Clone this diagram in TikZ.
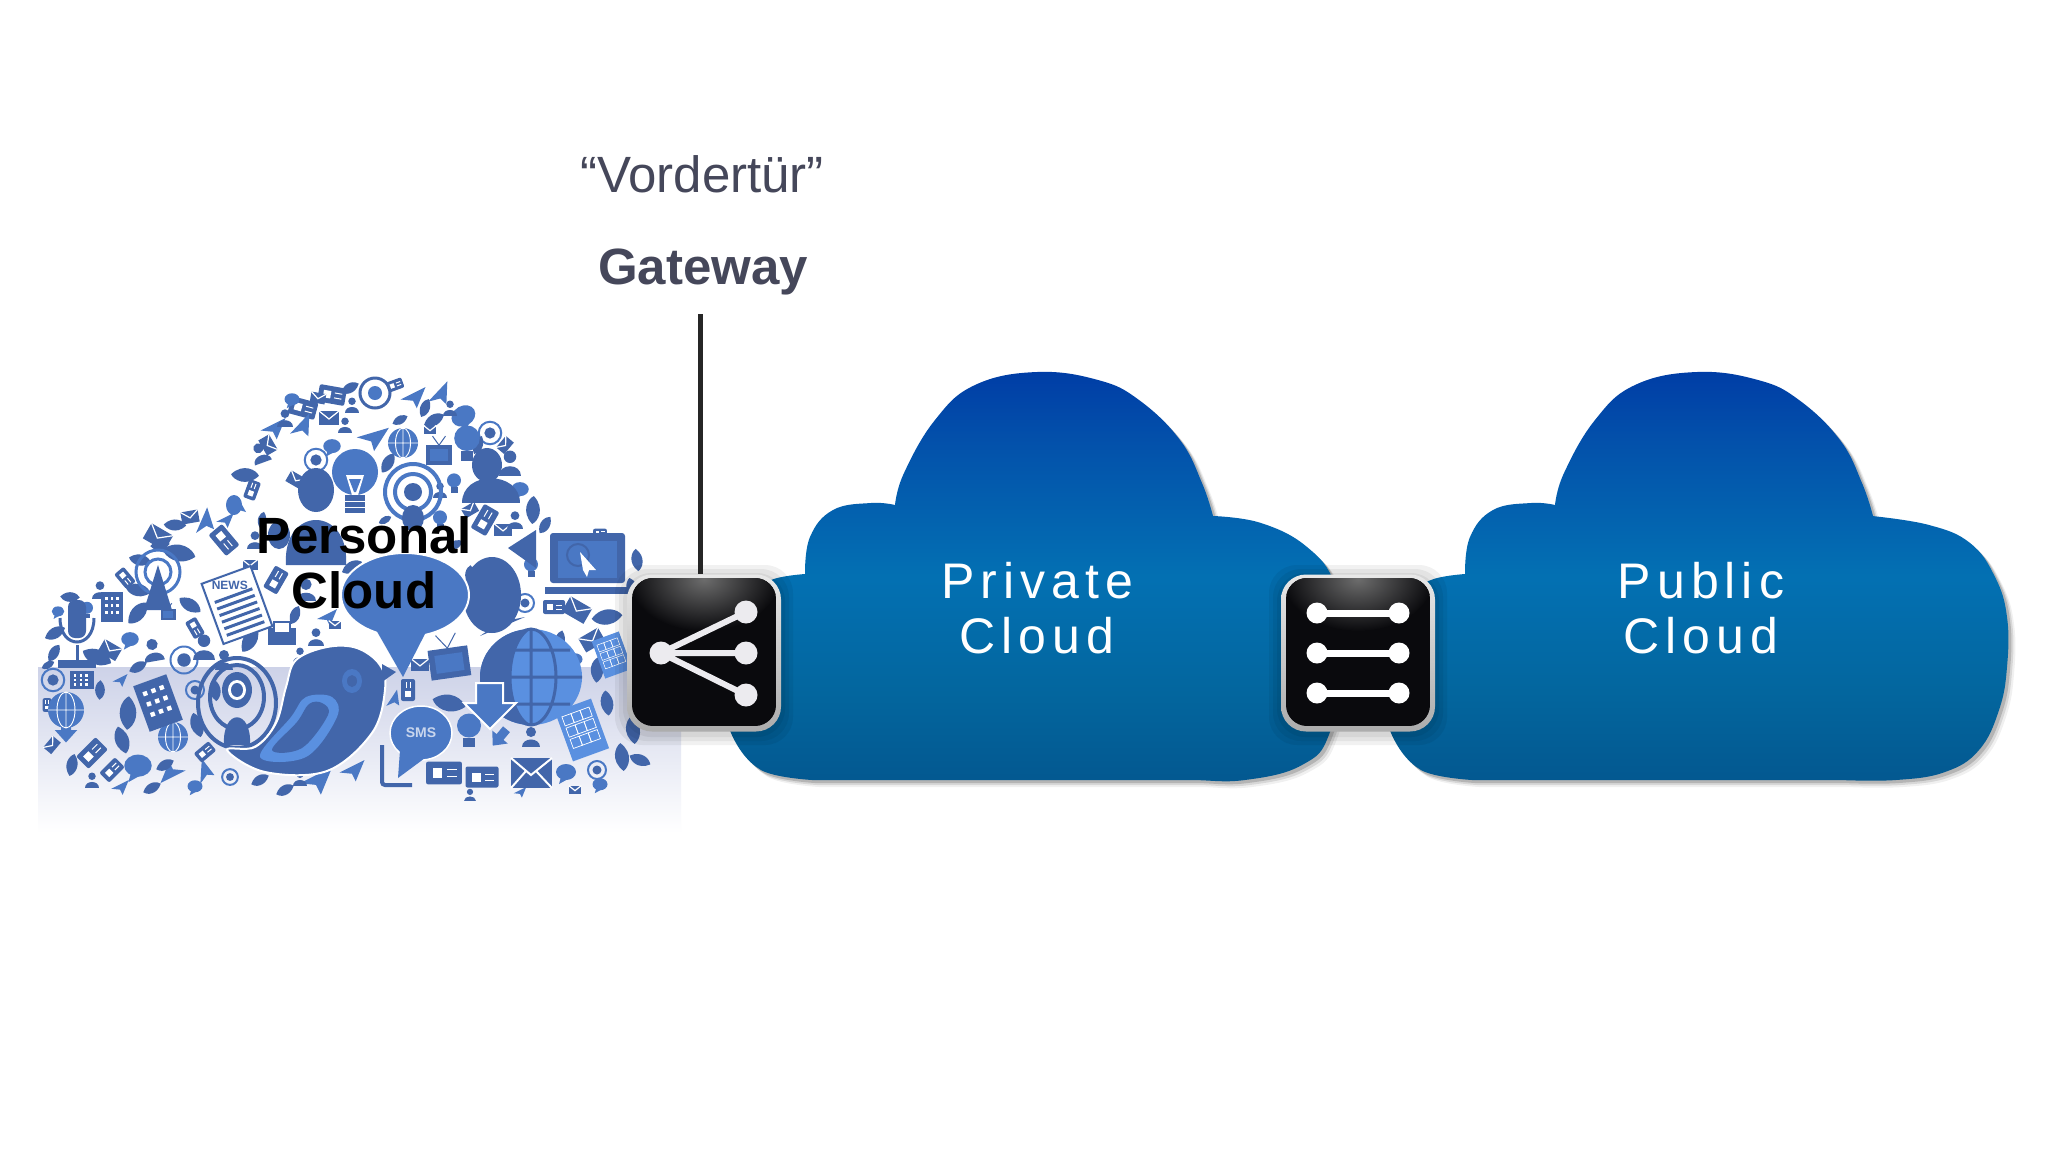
\documentclass[tikz,border=0pt]{standalone}
\usepackage{fontspec}
\setmainfont{Liberation Sans}
\newfontfamily\widefont{Liberation Sans}[LetterSpace=12]
\usetikzlibrary{calc}

\definecolor{mdk}{HTML}{4266AA}
\definecolor{mmd}{HTML}{4A78C4}
\definecolor{mlt}{HTML}{5A90E0}
\definecolor{inktext}{HTML}{45475A}
\definecolor{swblack}{HTML}{0A0A0D}
\definecolor{wirecol}{HTML}{ECEBEF}
\definecolor{reflect}{HTML}{CDD2E8}

\pgfdeclareverticalshading{cloudsh}{100bp}{
  rgb(0bp)=(0.012,0.345,0.565);
  rgb(25bp)=(0.012,0.345,0.565);
  rgb(36bp)=(0.012,0.400,0.620);
  rgb(50bp)=(0.012,0.440,0.700);
  rgb(66bp)=(0.012,0.320,0.670);
  rgb(75bp)=(0.000,0.240,0.650);
  rgb(100bp)=(0.000,0.240,0.650)}

\tikzset{
  lbl/.style={inner sep=0pt, text=inktext, anchor=base},
  cloudlbl/.style={inner sep=0pt, text=white, align=center,
    font=\widefont\fontsize{50}{55}\selectfont},
  wire/.style={line width=6pt, wirecol},
  swbox/.style={shape=rectangle, rounded corners=25pt, minimum width=154pt,
    minimum height=157pt, inner sep=0pt, top color=gray!18, bottom color=gray!65},
}

% cloud outline, private cloud position
\newcommand\cloudleft{plot[smooth, tension=.6] coordinates {(812,780) (761,770) (731,733) (722,680) (745,600) (771,580) (805,574)}
  -- plot[smooth, tension=.7] coordinates {(805,574) (810,537) (833,510) (871,503) (895,505)}
  -- plot[smooth, tension=.7] coordinates {(895,505) (904,473) (935,420) (975,385) (1037,372) (1098,380) (1139,400) (1180,440) (1202,483) (1213,516)}}
\newcommand\privright{-- plot[smooth, tension=.7] coordinates {(1213,516) (1261,523) (1307,547) (1335,585) (1345,650) (1330,732) (1302,765) (1245,780) (1190,780) (1134,780)} -- cycle}
\newcommand\pubright{-- plot[smooth, tension=.7] coordinates {(1212,516) (1269,525) (1310,543) (1335,577) (1347,617) (1347,667) (1339,710) (1319,750) (1285,772) (1236,780) (1180,780)} -- cycle}

\newcommand\softshadow[1]{%
  \fill[black, opacity=.06] [shift={(7,7)}] #1;
  \fill[black, opacity=.10] [shift={(5,5)}] #1;
  \fill[black, opacity=.16] [shift={(3,3)}] #1;}

% switch body: #1 name, #2 x
\newcommand\switchbox[2]{%
  \coordinate (#1c) at (#2,653);
  \foreach \g in {12,8,4}
    \fill[black, opacity=.055, rounded corners=28pt] ([shift={(-77-\g,-76-\g)}]#1c) rectangle ([shift={(77+\g,80+\g)}]#1c);
  \node[swbox] (#1) at (#1c) {};
  \begin{scope}
    \clip[rounded corners=21pt] ([shift={(-72,-75)}]#1c) rectangle ([shift={(72,73)}]#1c);
    \fill[swblack] ([shift={(-72,-75)}]#1c) rectangle ([shift={(72,73)}]#1c);
    \shade[inner color=gray!85!black, outer color=swblack] ([shift={(0,-74)}]#1c) ellipse (75 and 52);
  \end{scope}}

% mosaic icons
\newcommand\icomail{\fill[mdk] (-10,-7) rectangle (10,7); \draw[white, line width=1.2pt] (-10,-7) -- (0,1) -- (10,-7);}
\newcommand\icobub{\fill[mmd] (0,-1) ellipse (10 and 8); \fill[mmd] (-5,4) -- (-7,11) -- (2,6) -- cycle;}
\newcommand\icousr{\fill[mdk] (0,-5) circle (5); \fill[mdk] (-9,10) .. controls (-9,0) and (9,0) .. (9,10) -- cycle;}
\newcommand\icoglb{\fill[mmd] (0,0) circle (10); \draw[white, line width=.9pt] (-10,0) -- (10,0) (0,-10) -- (0,10) (0,0) ellipse (5 and 10);}
\newcommand\icobul{\fill[mmd] (0,-3) circle (8); \fill[mdk] (-4,5) rectangle (4,11);}
\newcommand\icorng{\draw[mmd, line width=2pt] (0,0) circle (9); \fill[mdk] (0,0) circle (4.5);}
\newcommand\icolef{\fill[mdk] (-10,5) .. controls (-6,-8) and (6,-8) .. (10,-5) .. controls (6,8) and (-6,8) .. cycle;}
\newcommand\icotvs{\fill[mdk] (-10,-6) rectangle (10,9); \fill[mmd] (-7,-3) rectangle (7,6); \draw[mdk, line width=1pt] (-5,-13) -- (0,-6) -- (5,-13);}
\newcommand\icocrd{\fill[mdk, rounded corners=2pt] (-11,-7) rectangle (11,7); \fill[white] (-7,-3) rectangle (-1,3); \draw[white, line width=1pt] (2,-2) -- (8,-2) (2,2) -- (8,2);}
\newcommand\icoarw{\fill[mmd] (-4,-9) -- (4,-9) -- (4,0) -- (9,0) -- (0,10) -- (-9,0) -- (-4,0) -- cycle;}
\newcommand\icopad{\fill[mdk] (-8,-11) rectangle (8,11); \foreach \i in {-4,0,4} \foreach \j in {-6,-1,4} \fill[white] (\i-1,\j-1) rectangle (\i+1,\j+1);}
\newcommand\icoflg{\fill[mmd] (-10,2) -- (10,-8) -- (3,9) -- (0,3) -- cycle;}

\begin{document}
\begin{tikzpicture}[x=1pt, y=-1pt]
  \useasboundingbox (0,0) rectangle (2048,1152);
  \fill[white] (0,0) rectangle (2048,1152);

  % reflection band behind the mosaic
  \shade[top color=reflect, bottom color=white] (38,667) rectangle (681,833);

  % small mosaic icons
  \foreach \k/\x/\y/\s/\r in {
    bub/235/505/.8/90, lef/245/475/1/-30, usr/260/453/.8/20, flg/273/428/1/0, crd/303/408/1/-15,
    crd/332/395/1/-10, flg/413/397/1/0, flg/439/395/1/20, bub/464/417/1/30, lef/434/420/.8/0,
    rng/490/433/1/0, usr/510/463/1/0, lef/533/510/1/60, mail/329/418/.8/0, flg/301/427/1/20,
    bub/332/447/.7/0, rng/316/460/1/0, lef/388/463/.8/30, bul/454/483/.7/0, mail/296/480/.7/-30,
    mail/158/537/1/-30, flg/204/523/1/40, crd/224/540/1/-50, lef/179/553/1.2/-40, lef/138/590/.9/-40,
    lef/138/613/1/20, tvs/168/613/.6/0, lef/55/633/.8/0, lef/54/653/.7/30, bul/87/610/.6/0,
    lef/97/657/1.1/-50, usr/153/650/.9/10, rng/184/660/1.2/0, lef/138/667/.7/0, usr/204/647/1/0,
    usr/224/660/.8/0, lef/250/640/1/30, usr/316/637/.7/0, flg/327/617/.8/0, crd/276/580/.9/60,
    usr/306/590/.9/0, lef/352/567/.8/0, crd/485/520/1/60, mail/503/530/.7/0, bul/531/567/.7/0,
    lef/470/575/.7/60, rng/525/603/.8/0, crd/554/607/.8/0, mail/577/610/1/-30, lef/607/617/1.1/-20,
    mail/592/640/.9/30, lef/597/670/.9/60, rng/53/680/1/0, pad/82/680/.9/90, arw/66/730/1/0,
    crd/92/753/1/45, crd/112/770/.8/45, bub/138/767/1.1/0, flg/173/773/1/180, flg/204/773/.9/60,
    rng/230/777/.7/0, lef/260/780/.7/0, flg/316/780/1.3/0, flg/352/770/1/0, crd/444/773/1.3/0,
    crd/482/777/1.2/0, bub/566/773/.8/0, rng/597/770/.8/0, bul/469/730/1.2/0, arw/500/737/.9/-40,
    usr/531/737/.8/0, crd/408/690/.8/90, lef/449/703/1.2/-40, flg/393/700/.7/30, glb/173/737/1.2/0,
    lef/128/713/1.2/60, lef/122/740/1/80, lef/607/703/.9/70, lef/633/730/1/70, lef/622/757/1/70,
    lef/633/590/.9/80, lef/640/640/.8/80, mail/420/665/.7/0, rng/195/690/.8/0,
    lef/100/690/.7/60, lef/565/690/.7/60, lef/215/690/.8/70, usr/300/655/.6/0,
    % filler along the outline and in the gaps
    crd/252/490/.7/70, mail/268/445/.7/-60, usr/285/418/.7/0, bub/292/400/.6/0, mail/318/398/.6/-10,
    lef/350/388/.7/0, usr/352/405/.6/0, crd/395/385/.6/20, lef/425/408/.7/40, usr/450/408/.6/0,
    lef/478/445/.7/40, mail/505/445/.6/50, bub/520/490/.7/0, usr/515/520/.7/0, lef/545/525/.7/30,
    crd/600/533/.5/0, lef/637/560/.8/70, mail/645/610/.6/70, lef/650/680/.8/85, crd/645/700/.6/80,
    lef/640/760/.8/-50, bub/600/785/.6/0, mail/575/790/.5/0, flg/520/792/.5/0, usr/470/795/.5/0,
    lef/140/560/.8/-40, crd/125/578/.7/-50, lef/175/525/.8/-30, mail/190/517/.7/10, flg/225/520/.7/0,
    lef/160/545/.7/-20, usr/100/590/.7/0, lef/70/597/.7/-30, bub/58/612/.5/0, lef/48/665/.5/0,
    crd/47/705/.5/90, mail/52/745/.6/50, lef/72/765/.8/50, usr/92/780/.6/0, flg/120/787/.7/0,
    lef/152/788/.7/0, bub/195/787/.6/0, lef/285/790/.7/0, usr/300/778/.6/0, lef/190/605/.9/-60,
    crd/195/628/.7/-60, bub/130/640/.7/0, mail/110/650/.8/-30, flg/120/680/.6/0, lef/197/725/.9/80,
    crd/205/752/.7/40, lef/165/765/.7/0, mail/335/625/.5/0, lef/295/615/.7/40, usr/255/540/.7/0,
    lef/262/520/.6/50, mail/250/565/.6/0, bul/440/520/.7/0, lef/455/545/.6/0, mail/470/510/.6/30,
    usr/440/490/.6/0, lef/385/520/.5/0, usr/345/425/.6/0, lef/400/420/.6/0, mail/430/430/.5/0,
    lef/560/640/.7/50, bub/575/660/.6/0, mail/640/675/.5/80}
  {
    \begin{scope}[shift={(\x,\y)}, scale=1.25*\s, rotate=\r]
      \csname ico\k\endcsname
    \end{scope}
  }

  % webcam, top of the cloud
  \draw[mdk, line width=3pt] (375,393) circle (15);
  \fill[mmd] (375,393) circle (7);
  % plane, globe, tv, bulb in the top band
  \begin{scope}[shift={(372,437)}, scale=1.5, rotate=-10] \icoflg \end{scope}
  \begin{scope}[shift={(403,443)}, scale=1.5] \icoglb \end{scope}
  \begin{scope}[shift={(439,453)}, scale=1.3] \icotvs \end{scope}
  \begin{scope}[shift={(467,443)}, scale=1.6] \icobul \end{scope}

  % people
  \fill[mdk] (316,490) ellipse (18 and 22);
  \fill[mdk] (286,565) .. controls (282,505) and (350,505) .. (346,565) -- cycle;
  \fill[mdk] (279,535) ellipse (11 and 14);
  \fill[mdk] (487,465) ellipse (15 and 17);
  \fill[mdk] (462,503) .. controls (462,470) and (520,470) .. (520,503) -- cycle;

  % big bulb
  \fill[mmd] (355,472) ellipse (23 and 23);
  \fill[white] (346,475) -- (364,475) -- (358,495) -- (352,495) -- cycle;
  \fill[mmd] (349,479) -- (361,479) -- (356,492) -- (354,492) -- cycle;
  \fill[mdk] (345,495) rectangle (365,513);
  \draw[white, line width=1pt] (345,501) -- (365,501) (345,507) -- (365,507);

  % rings
  \draw[mmd, line width=4pt] (413,492) circle (28);
  \draw[mmd, line width=4pt] (413,492) circle (18);
  \fill[mdk] (413,492) circle (9);
  \fill[mdk] (413,518) ellipse (11 and 13);

  % laptop
  \fill[mdk, rounded corners=3pt] (550,533) rectangle (625,583);
  \fill[mmd] (558,541) rectangle (617,578);
  \draw[mdk, line width=2pt] (578,555) circle (11);
  \fill[white] (580,552) -- (596,570) -- (589,570) -- (587,577) -- (583,570) -- cycle;
  \fill[mdk] (545,587) rectangle (628,594);

  % megaphone
  \fill[mdk] (508,548) -- (536,530) -- (536,568) -- cycle;

  % newspaper
  \begin{scope}[shift={(237,605)}, rotate=20]
    \draw[mdk, fill=white, line width=2pt] (-26,-32) rectangle (26,32);
    \node[inner sep=0pt, text=mdk, font=\bfseries\fontsize{12}{12}\selectfont] (news) at (0,-21) {NEWS};
    \foreach \y in {-10,-3,4,11,18,25} \draw[mdk, line width=3pt] (-20,\y) -- (20,\y);
  \end{scope}

  % printer
  \fill[mdk] (268,628) rectangle (296,645);
  \fill[white] (274,622) rectangle (290,633);
  \draw[mdk, line width=1.5pt] (274,622) rectangle (290,633);

  % mic, tower, phone
  \fill[mdk, rounded corners=7pt] (68,600) rectangle (86,638);
  \draw[mdk, line width=3pt] (60,618) .. controls (60,650) and (94,650) .. (94,618);
  \draw[mdk, line width=3pt] (77,645) -- (77,662);
  \fill[mdk] (58,660) rectangle (96,668);
  \draw[mmd, line width=3pt] (158,572) circle (13);
  \draw[mmd, line width=3pt] (158,572) circle (22);
  \fill[mdk] (158,565) -- (172,610) -- (144,610) -- cycle;
  \begin{scope}[shift={(112,607)}, scale=1.4] \icopad \end{scope}

  % keypads and small tablets
  \begin{scope}[shift={(158,703)}, scale=2.2, rotate=20] \icopad \end{scope}
  \begin{scope}[shift={(582,730)}, scale=2.4, rotate=20] \fill[mlt] (-8,-11) rectangle (8,11); \foreach \i in {-4,0,4} \foreach \j in {-6,-1,4} \draw[white, line width=.7pt] (\i-2,\j-2) rectangle (\i+2,\j+2); \end{scope}
  \begin{scope}[shift={(612,655)}, scale=1.8, rotate=20] \fill[mlt] (-8,-11) rectangle (8,11); \foreach \i in {-4,0,4} \foreach \j in {-6,-1,4} \draw[white, line width=.5pt] (\i-2,\j-2) rectangle (\i+2,\j+2); \end{scope}

  % tv and small globe
  \begin{scope}[shift={(449,660)}, scale=2, rotate=8] \icotvs \end{scope}
  \begin{scope}[shift={(66,710)}, scale=1.8] \icoglb \end{scope}

  % speech bubbles
  \fill[mdk] (492,595) ellipse (29 and 38);
  \fill[mdk] (500,622) -- (525,617) -- (480,636) -- cycle;
  \fill[mmd, draw=white, line width=2pt] (405,595) ellipse (64 and 42);
  \fill[mmd] (375,628) -- (403,677) -- (428,628) -- cycle;

  % globe
  \fill[mlt] (531,677) ellipse (51 and 48);
  \fill[mdk] (531,629) arc[start angle=-90, end angle=-270, x radius=51, y radius=48] .. controls (505,710) and (505,645) .. (531,629);
  \draw[mdk, line width=3pt] (531,629) -- (531,725) (480,677) -- (582,677) (492,650) -- (570,650) (492,704) -- (570,704) (531,677) ellipse (25 and 48);
  % download arrow
  \fill[mmd, draw=white, line width=2pt] (476,683) -- (503,683) -- (503,703) -- (516,703) -- (490,729) -- (464,703) -- (476,703) -- cycle;

  % podcast rings
  \draw[mdk, line width=4pt] (237,703) ellipse (39 and 45);
  \draw[mdk, line width=4pt] (237,697) ellipse (27 and 32);
  \fill[mdk] (237,690) ellipse (15 and 18);
  \fill[white] (237,690) ellipse (9 and 10);
  \fill[mdk] (237,690) ellipse (6 and 7);
  \fill[mdk] (224,745) .. controls (222,708) and (252,708) .. (250,745) -- cycle;

  % bird
  \fill[mdk, draw=white, line width=2pt] plot[smooth cycle, tension=.6] coordinates {(227,750) (265,772) (327,771) (372,733) (385,690) (380,665) (357,648) (327,647) (296,660) (286,687) (276,723) (255,747)};
  \fill[mdk] (382,664) -- (396,672) -- (382,682) -- cycle;
  \fill[mlt] plot[smooth cycle, tension=.6] coordinates {(260,757) (306,757) (337,717) (332,697) (306,697) (291,717)};
  \fill[mdk] plot[smooth cycle, tension=.6] coordinates {(272,750) (302,748) (328,715) (322,703) (309,704) (297,722)};
  \fill[mmd] (352,681) ellipse (10 and 12);
  \fill[mdk] (352,681) ellipse (5 and 6);

  % SMS bubble
  \fill[mmd, draw=white, line width=1.5pt] (421,733) ellipse (31 and 27);
  \fill[mmd] (400,750) -- (398,778) -- (425,758) -- cycle;
  \node[inner sep=0pt, text=white!70!mmd, font=\bfseries\fontsize{14}{14}\selectfont] (sms) at (421,733) {SMS};
  \draw[mdk, line width=4pt, rounded corners=3pt] (382,745) -- (382,785) -- (412,785);

  % envelope
  \fill[mdk] (511,758) rectangle (552,788);
  \draw[white, line width=2pt] (511,758) -- (531,775) -- (552,758) (511,788) -- (526,771) (552,788) -- (536,771);

  \node[inner sep=0pt, align=center, text=black, font=\bfseries\fontsize{51}{55}\selectfont] (personal) at (364,563) {Personal\\Cloud};

  % clouds
  \softshadow{\cloudleft \privright}
  \shade[shading=cloudsh] \cloudleft \privright;
  \begin{scope}[shift={(660,0)}]
    \softshadow{\cloudleft \pubright}
    \shade[shading=cloudsh] \cloudleft \pubright;
  \end{scope}

  \node[cloudlbl] (private) at (1037,608) {Private\\Cloud};
  \node[cloudlbl] (public) at (1701,608) {Public\\Cloud};

  % switches
  \switchbox{swa}{704}
  \switchbox{swb}{1358}

  % share icon
  \begin{scope}
    \draw[wire] (661,653) -- (746,612) (661,653) -- (746,653) (661,653) -- (746,695);
    \fill[wirecol] (661,653) circle (11.5) (746,612) circle (11.5) (746,653) circle (11.5) (746,695) circle (11.5);
  \end{scope}
  % parallel icon
  \foreach \y in {613,653,693} {
    \draw[line width=7pt, white] (1317,\y) -- (1399,\y);
    \fill[white] (1317,\y) circle (10.5) (1399,\y) circle (10.5);
  }

  % labels
  \node[lbl, font=\fontsize{51}{51}\selectfont] (door) at (702,192) {“Vordertür”};
  \node[lbl, font=\bfseries\fontsize{51}{51}\selectfont] (gateway) at (703,284) {Gateway};
  \coordinate (gwtop) at (700,314);
  \draw[line width=5pt, black!85] (gwtop) -- (gwtop |- swa.north);
\end{tikzpicture}
\end{document}
